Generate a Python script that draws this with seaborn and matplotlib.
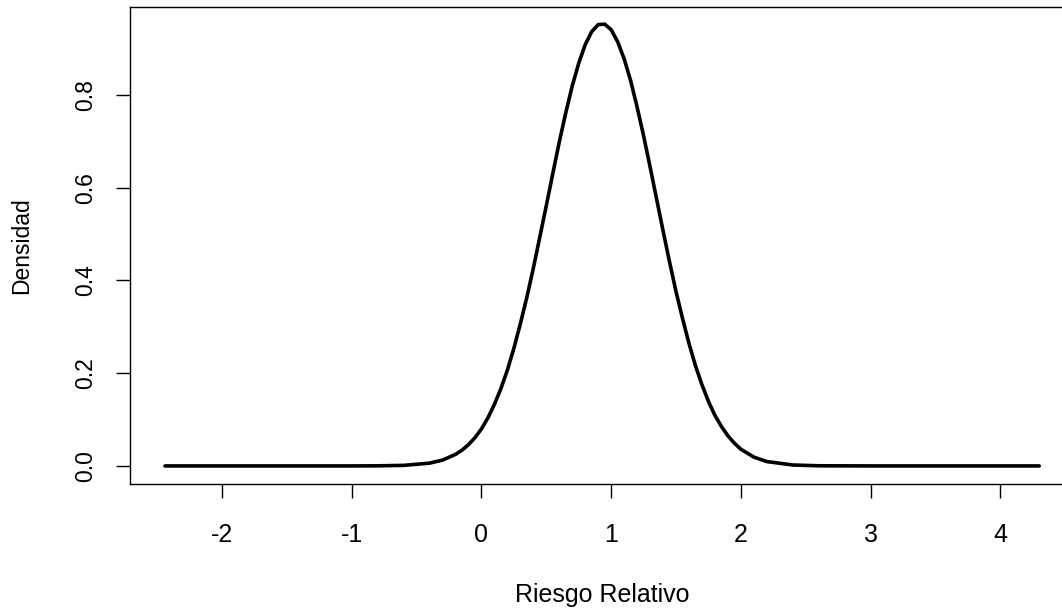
import matplotlib
matplotlib.use("Agg")
import matplotlib.pyplot as plt
import seaborn as sns
import pandas as pd

# Density curve
riesgo_relativo = [-2.44, -1.00, -0.80, -0.60, -0.40, -0.30, -0.20, -0.15, -0.10, -0.05,
                   0.00, 0.05, 0.10, 0.15, 0.20, 0.25, 0.30, 0.35, 0.40, 0.45,
                   0.50, 0.55, 0.60, 0.65, 0.70, 0.75, 0.80, 0.85, 0.90, 0.95,
                   1.00, 1.05, 1.10, 1.15, 1.20, 1.25, 1.30, 1.35, 1.40, 1.45,
                   1.50, 1.55, 1.60, 1.65, 1.70, 1.75, 1.80, 1.85, 1.90, 1.95,
                   2.00, 2.10, 2.20, 2.40, 2.60, 3.00, 4.30]
densidad = [0.000, 0.000, 0.0002, 0.0012, 0.006, 0.0126, 0.025, 0.034, 0.046, 0.061,
            0.080, 0.104, 0.133, 0.167, 0.207, 0.254, 0.307, 0.364, 0.427, 0.494,
            0.562, 0.631, 0.699, 0.762, 0.820, 0.869, 0.909, 0.937, 0.952, 0.953,
            0.941, 0.915, 0.878, 0.831, 0.774, 0.712, 0.645, 0.576, 0.507, 0.440,
            0.376, 0.318, 0.264, 0.216, 0.175, 0.139, 0.109, 0.085, 0.065, 0.049,
            0.036, 0.019, 0.0094, 0.002, 0.0003, 0.000, 0.000]

x_ticks = [-2, -1, 0, 1, 2, 3, 4]
y_ticks = [0.0, 0.2, 0.4, 0.6, 0.8]
x_label = "Riesgo Relativo"
y_label = "Densidad"

df = pd.DataFrame({"x": riesgo_relativo, "y": densidad})

sns.set_theme(style="white")
plt.rcParams['font.family'] = ['Liberation Sans', 'DejaVu Sans']

fig = plt.figure(figsize=(10.62, 6.11), dpi=100)
# plot box extends slightly past the right edge of the image, as in the reference
ax = fig.add_axes([130/1062, (611-484)/611, (1075-130)/1062, (484-7)/611])

sns.lineplot(data=df, x="x", y="y", ax=ax, color="black", linewidth=2.6, sort=False)

ax.set_xlim(-2.71, 4.576)
ax.set_ylim(-0.039, 0.990)
ax.set_xticks(x_ticks)
ax.set_xticklabels([str(t) for t in x_ticks], fontsize=18)
ax.set_yticks(y_ticks)
ax.set_yticklabels([f"{t:.1f}" for t in y_ticks], rotation=90, va="center", fontsize=16.5)

for s in ax.spines.values():
    s.set_visible(True)
    s.set_color("black")
    s.set_linewidth(1.0)

ax.tick_params(axis="both", direction="out", length=10, width=1.0, colors="black",
               labelcolor="black", bottom=True, left=True)
ax.tick_params(axis="x", pad=18)
ax.tick_params(axis="y", pad=14)

ax.set_xlabel(x_label, fontsize=18, color="black")
ax.set_ylabel(y_label, fontsize=16.5, color="black")
ax.xaxis.set_label_coords(0.5, (484-595)/477)
ax.xaxis.label.set_va("center")
ax.yaxis.set_label_coords((22-130)/945, 0.5)
ax.yaxis.label.set_va("center")

fig.savefig("out.png", dpi=100, facecolor="white")
